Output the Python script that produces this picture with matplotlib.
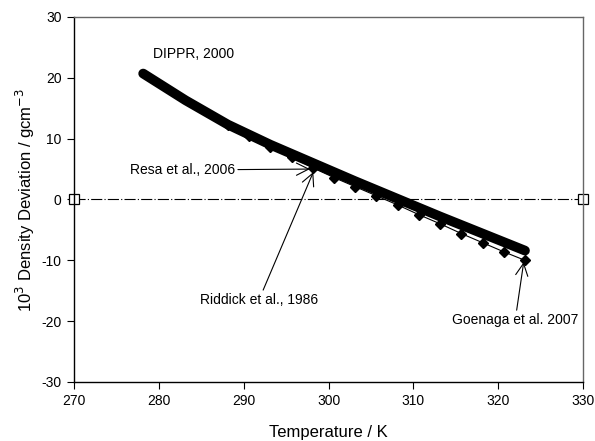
import numpy as np
import matplotlib
matplotlib.use("Agg")
from matplotlib import pyplot as plt

plt.rcParams['font.family'] = ['Liberation Sans', 'DejaVu Sans']
plt.rcParams['axes.unicode_minus'] = False

# DIPPR correlation deviation (thick curve)
dippr_T = [278.15, 283.15, 288.15, 293.15, 298.15, 303.15, 308.15, 313.15, 318.15, 323.15]
dippr_dev = [20.7, 16.3, 12.3, 9.0, 6.0, 3.0, 0.1, -2.8, -5.6, -8.4]

# experimental points (diamonds)
exp_T = [288.15, 290.65, 293.15, 295.65, 298.15, 300.65, 303.15, 305.65,
         308.15, 310.65, 313.15, 315.65, 318.15, 320.65, 323.15]
exp_dev = [12.3, 10.5, 8.7, 7.0, 5.2, 3.6, 2.1, 0.6,
           -0.9, -2.5, -4.0, -5.6, -7.1, -8.6, -10.0]

# zero reference line
ref_T = [270, 330]
ref_dev = [0, 0]

fig = plt.figure(figsize=(5.95, 4.41), dpi=100)
ax = fig.add_axes([0.1244, 0.1338, 0.8556, 0.8277])

ax.plot(ref_T, ref_dev, color='black', lw=0.8, linestyle=(0, (10, 2, 1, 2)),
        marker='s', markersize=7, markerfacecolor='white', markeredgecolor='black',
        markeredgewidth=0.9, clip_on=False, zorder=2)
ax.plot(exp_T, exp_dev, color='black', lw=0.8, marker='D', markersize=5.5,
        markerfacecolor='black', zorder=3)
ax.plot(dippr_T, dippr_dev, color='black', lw=7, solid_capstyle='round', zorder=4)

arrow = dict(arrowstyle='->', color='black', lw=0.8, mutation_scale=22,
             shrinkA=0, shrinkB=0)
ax.text(279.3, 23.9, 'DIPPR, 2000', fontsize=10, va='center', ha='left')
ax.annotate('Resa et al., 2006', xy=(297.8, 5.0), xytext=(276.6, 4.85),
            fontsize=10, va='center', ha='left', arrowprops=arrow, zorder=5)
ax.annotate('Riddick et al., 1986', xy=(298.2, 4.5), xytext=(291.8, -16.5),
            fontsize=10, va='center', ha='center', arrowprops=arrow, zorder=5)
ax.annotate('Goenaga et al. 2007', xy=(323.0, -10.3), xytext=(322.0, -19.8),
            fontsize=10, va='center', ha='center', arrowprops=arrow, zorder=5)

ax.set_xlim(270, 330)
ax.set_ylim(-30, 30)
ax.set_xticks(np.arange(270, 331, 10))
ax.set_yticks(np.arange(-30, 31, 10))
ax.tick_params(direction='out', length=5, width=0.8, labelsize=10, pad=4)
for side in ['top', 'right']:
    ax.spines[side].set_color('#666666')
for side in ['left', 'bottom']:
    ax.spines[side].set_color('black')
for sp in ax.spines.values():
    sp.set_linewidth(1.0)

ax.set_xlabel('Temperature / K', fontsize=12, labelpad=12)
ax.set_ylabel('10$^{3}$ Density Deviation / gcm$^{-3}$', fontsize=12, labelpad=3)

fig.savefig('out.png', dpi=100)
